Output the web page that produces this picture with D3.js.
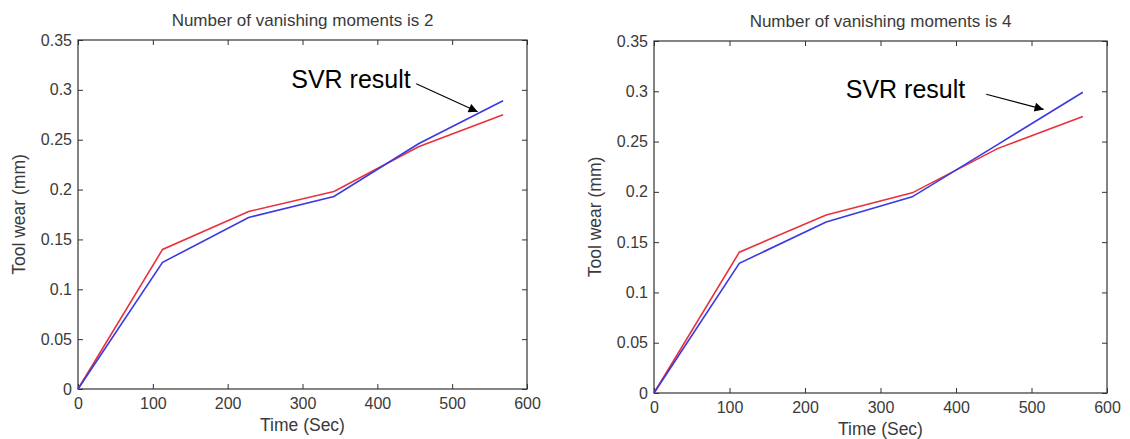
<!DOCTYPE html>
<html>
<head>
<meta charset="utf-8">
<script src="https://cdn.jsdelivr.net/npm/d3@7"></script>
<style>
  body { margin: 0; background: #fff; }
  svg text { font-family: "Liberation Sans", Arial, sans-serif; }
</style>
</head>
<body>
<svg id="chart" width="1130" height="439"></svg>
<script>
// Data
const timeSec = [0, 113, 228, 342, 455, 568];

const measured2 = [0, 0.140, 0.178, 0.198, 0.243, 0.275]; // red
const svr2 = [0, 0.127, 0.172, 0.193, 0.246, 0.289];      // blue

const measured4 = [0, 0.140, 0.177, 0.199, 0.243, 0.275]; // red
const svr4 = [0, 0.129, 0.170, 0.195, 0.247, 0.299];      // blue

const xTicks = [0, 100, 200, 300, 400, 500, 600];
const yTicks = [0, 0.05, 0.1, 0.15, 0.2, 0.25, 0.3, 0.35];
const yTickLabels = ["0", "0.05", "0.1", "0.15", "0.2", "0.25", "0.3", "0.35"];

const titles = ["Number of vanishing moments is 2", "Number of vanishing moments is 4"];
const xLabel = "Time (Sec)";
const yLabel = "Tool wear (mm)";
const annoText = "SVR result";
// annotation in data units: text start, arrow start, arrow end
const anno2 = { tx: 285, ty: 0.302, x1: 452, y1: 0.306, x2: 534, y2: 0.278 };
const anno4 = { tx: 254, ty: 0.293, x1: 440, y1: 0.297, x2: 516, y2: 0.282 };

const svg = d3.select("#chart");

svg.append("defs").append("marker")
  .attr("id", "arrow")
  .attr("viewBox", "0 0 10 10")
  .attr("refX", 10)
  .attr("refY", 5)
  .attr("markerWidth", 12)
  .attr("markerHeight", 9)
  .attr("markerUnits", "userSpaceOnUse")
  .attr("orient", "auto")
  .append("path")
  .attr("d", "M0,0 L10,5 L0,10 Z")
  .attr("fill", "#000");

function drawPanel(box, title, red, blue, anno) {
  const x = d3.scaleLinear().domain([0, 600]).range([box.left, box.right]);
  const y = d3.scaleLinear().domain([0, 0.35]).range([box.bottom, box.top]);
  const g = svg.append("g");
  const axisColor = "#333";

  // bottom axis with labels, ticks pointing inward
  const bottom = g.append("g")
    .attr("transform", `translate(0,${box.bottom})`)
    .call(d3.axisBottom(x).tickValues(xTicks).tickSizeInner(-5).tickSizeOuter(0).tickPadding(9));
  // left axis with labels
  const left = g.append("g")
    .attr("transform", `translate(${box.left},0)`)
    .call(d3.axisLeft(y).tickValues(yTicks).tickFormat((d, i) => yTickLabels[i])
      .tickSizeInner(-5).tickSizeOuter(0).tickPadding(6));
  // top and right axes: ticks only
  const top = g.append("g")
    .attr("transform", `translate(0,${box.top})`)
    .call(d3.axisTop(x).tickValues(xTicks).tickFormat("").tickSizeInner(-5).tickSizeOuter(0));
  const right = g.append("g")
    .attr("transform", `translate(${box.right},0)`)
    .call(d3.axisRight(y).tickValues(yTicks).tickFormat("").tickSizeInner(-5).tickSizeOuter(0));

  [bottom, left, top, right].forEach(a => {
    a.select(".domain").remove();
    a.selectAll("line").attr("stroke", axisColor);
    a.selectAll("text")
      .attr("fill", "#3a3a3a")
      .style("font-size", "16px");
  });

  // axes box
  g.append("rect")
    .attr("x", box.left)
    .attr("y", box.top)
    .attr("width", box.right - box.left)
    .attr("height", box.bottom - box.top)
    .attr("fill", "none")
    .attr("stroke", axisColor)
    .attr("stroke-width", 1.2);

  const line = d3.line()
    .x((d, i) => x(timeSec[i]))
    .y(d => y(d));

  g.append("path")
    .datum(red)
    .attr("fill", "none")
    .attr("stroke", "#e8323c")
    .attr("stroke-width", 1.6)
    .attr("d", line);

  g.append("path")
    .datum(blue)
    .attr("fill", "none")
    .attr("stroke", "#3a3ae0")
    .attr("stroke-width", 1.6)
    .attr("d", line);

  // title
  g.append("text")
    .attr("x", (box.left + box.right) / 2)
    .attr("y", box.top - 14)
    .attr("text-anchor", "middle")
    .attr("fill", "#3a3a3a")
    .style("font-size", "17px")
    .text(title);

  // x label
  g.append("text")
    .attr("x", (box.left + box.right) / 2)
    .attr("y", box.bottom + 42)
    .attr("text-anchor", "middle")
    .attr("fill", "#3a3a3a")
    .style("font-size", "17.5px")
    .text(xLabel);

  // y label
  g.append("text")
    .attr("transform", `translate(${box.left - 53},${(box.top + box.bottom) / 2}) rotate(-90)`)
    .attr("text-anchor", "middle")
    .attr("fill", "#3a3a3a")
    .style("font-size", "17.5px")
    .text(yLabel);

  // annotation
  g.append("text")
    .attr("x", x(anno.tx))
    .attr("y", y(anno.ty))
    .attr("fill", "#000")
    .style("font-size", "25px")
    .text(annoText);

  g.append("line")
    .attr("x1", x(anno.x1))
    .attr("y1", y(anno.y1))
    .attr("x2", x(anno.x2))
    .attr("y2", y(anno.y2))
    .attr("stroke", "#000")
    .attr("stroke-width", 1.1)
    .attr("marker-end", "url(#arrow)");
}

drawPanel({ left: 78, right: 527, top: 40, bottom: 389 }, titles[0], measured2, svr2, anno2);
drawPanel({ left: 654, right: 1107, top: 41, bottom: 393 }, titles[1], measured4, svr4, anno4);
</script>
</body>
</html>
